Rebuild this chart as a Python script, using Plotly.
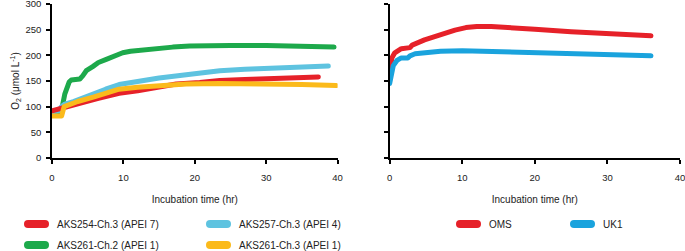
import plotly.graph_objects as go

# ---------------- data ----------------
t_aks254 = [0, 0.5, 1.0, 2.0, 3.0, 4.8, 6.5, 9.4, 12, 14.1, 17.4, 20.7, 23.5, 27, 30.5, 34, 37.3]
o2_aks254 = [92, 94, 97, 100, 104, 110, 116, 126, 131, 136, 144, 147, 151, 153, 155, 157, 158]

t_aks257 = [0, 0.5, 1.0, 1.3, 1.8, 3.0, 4.8, 5.9, 7.5, 9.4, 12, 15, 18.8, 23.5, 27, 30.5, 34, 37.5, 38.7]
o2_aks257 = [90, 90, 92, 100, 105, 110, 120, 127, 134, 143, 150, 156, 162, 170, 173, 175, 176, 178, 179]

t_aks261_2 = [0, 0.5, 1.0, 1.3, 1.8, 2.4, 2.7, 3.5, 3.9, 4.3, 4.8, 5.7, 6.5, 7.6, 8.5, 9.9, 11, 12.2, 14, 16.9, 19.3, 22, 25, 30, 35, 39.5]
o2_aks261_2 = [88, 88, 88, 90, 125, 148, 152, 152, 154, 160, 170, 178, 186, 192, 198, 205, 208, 210, 213, 216, 218, 219, 219, 219, 218, 216]

t_aks261_3 = [0, 0.5, 1.0, 1.35, 1.7, 2.5, 3.6, 5.9, 8, 9.4, 12, 14.1, 16, 18.8, 23.5, 27, 30.5, 35, 39.8]
o2_aks261_3 = [82, 82, 82, 82, 100, 105, 110, 119, 127, 134, 138, 140, 142, 144, 145, 145, 144, 143, 141]

t_oms = [0, 0.1, 0.3, 0.7, 1.6, 2.8, 3.1, 4.8, 6.0, 7.6, 9.0, 10.5, 12, 14, 16, 20, 25, 30, 36]
o2_oms = [165, 178, 195, 205, 213, 215, 220, 230, 236, 243, 249, 254, 256, 256, 255, 251, 246, 242, 238]

t_uk1 = [0, 0.1, 0.2, 0.5, 1.0, 1.6, 2.5, 2.8, 3.5, 5, 7, 10, 13, 18, 22, 30, 36]
o2_uk1 = [145, 155, 165, 180, 190, 195, 195, 199, 203, 206, 208, 209, 208, 206, 204, 201, 199]

x_ticks = [0, 10, 20, 30, 40]
y_ticks = [0, 50, 100, 150, 200, 250, 300]

FONT = "Liberation Sans, Arial, sans-serif"

left_series = [
    ("AKS254-Ch.3 (APEI 7)", t_aks254, o2_aks254, "#E62129", "legend", 17, 224),
    ("AKS257-Ch.3 (APEI 4)", t_aks257, o2_aks257, "#5EC3E0", "legend2", 199, 224),
    ("AKS261-Ch.2 (APEI 1)", t_aks261_2, o2_aks261_2, "#1DA94B", "legend3", 17, 245),
    ("AKS261-Ch.3 (APEI 1)", t_aks261_3, o2_aks261_3, "#FBBA1B", "legend4", 199, 245),
]
right_series = [
    ("OMS", t_oms, o2_oms, "#E62129", "legend5", 449, 224),
    ("UK1", t_uk1, o2_uk1, "#1AA3DD", "legend6", 563, 224),
]

W, H = 685, 251
ML, MR, MT, MB = 52, 5, 4, 93
PW, PH = W - ML - MR, H - MT - MB

fig = go.Figure()
legends = {}
for i in [2, 1, 0, 3]:
    name, tx, ty, col, lg, lx, ly = left_series[i]
    fig.add_trace(go.Scatter(x=tx, y=ty, mode="lines", name=name,
                             line=dict(color=col, width=5),
                             xaxis="x", yaxis="y", legend=lg))
for name, tx, ty, col, lg, lx, ly in right_series:
    fig.add_trace(go.Scatter(x=tx, y=ty, mode="lines", name=name,
                             line=dict(color=col, width=5),
                             xaxis="x2", yaxis="y2", legend=lg))

for name, tx, ty, col, lg, lx, ly in left_series + right_series:
    legends[lg] = dict(
        x=(lx - ML) / PW, y=(MT + PH - ly) / PH,
        xanchor="left", yanchor="middle", orientation="h",
        bgcolor="rgba(0,0,0,0)", borderwidth=0,
        font=dict(family=FONT, size=10, color="#222"),
        itemwidth=30,
    )

axis_common = dict(
    showline=True, linecolor="black", linewidth=1.5,
    ticks="outside", ticklen=4, tickwidth=1.5, tickcolor="black",
    showgrid=False, zeroline=False, automargin=False,
    ticklabeloverflow="allow", ticklabelposition="outside",
    tickfont=dict(family=FONT, size=9.5, color="#222"),
)

fig.update_layout(
    width=W, height=H,
    margin=dict(l=ML, r=MR, t=MT, b=MB, autoexpand=False),
    paper_bgcolor="white", plot_bgcolor="white",
    font=dict(family=FONT, size=10, color="#222"),
    xaxis=dict(domain=[0, 0.4548], range=[0, 40], tickvals=x_ticks, anchor="y",
               title=dict(text="Incubation time (hr)", font=dict(size=10), standoff=14),
               ticklabelstandoff=6, **axis_common),
    yaxis=dict(range=[0, 300], tickvals=y_ticks, anchor="x",
               title=dict(text="O<sub>2</sub> (μmol L<sup>-1</sup>)", font=dict(size=10), standoff=4),
               ticklabelstandoff=3, **axis_common),
    xaxis2=dict(domain=[0.5377, 1], range=[0, 40], tickvals=x_ticks, anchor="y2",
                title=dict(text="Incubation time (hr)", font=dict(size=10), standoff=14),
                ticklabelstandoff=6, **axis_common),
    yaxis2=dict(range=[0, 300], tickvals=y_ticks, anchor="x2", showticklabels=False,
                **axis_common),
    showlegend=True,
    **legends,
)

post = """
document.body.style.margin='0';
document.body.style.overflow='hidden';
var gd = document.getElementById('{plot_id}');
gd.querySelectorAll('.scatterlayer path.js-line').forEach(function(p){p.style.strokeLinecap='round';p.style.strokeLinejoin='round';});
gd.querySelectorAll('.infolayer path.js-line').forEach(function(p){p.setAttribute('d','M11,0h17');p.style.strokeLinecap='round';p.style.strokeWidth='8px';});
"""
fig.write_html("out.html", post_script=post, config={"displayModeBar": False})
